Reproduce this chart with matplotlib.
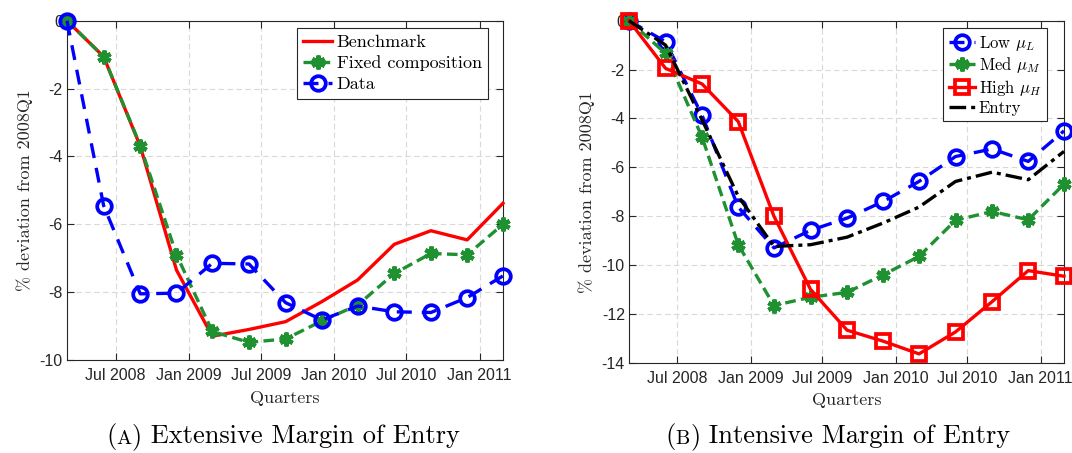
import matplotlib
matplotlib.use("Agg")
import matplotlib.pyplot as plt
import matplotlib.dates as mdates
import datetime as dt
from matplotlib.offsetbox import TextArea, HPacker, AnnotationBbox

# ---------------- data ----------------
quarters = ["2008-03-01", "2008-06-01", "2008-09-01", "2008-12-01",
            "2009-03-01", "2009-06-01", "2009-09-01", "2009-12-01",
            "2010-03-01", "2010-06-01", "2010-09-01", "2010-12-01",
            "2011-03-01"]

benchmark = [0.0, -1.06, -3.70, -7.35, -9.30, -9.10, -8.87, -8.28, -7.64, -6.59, -6.19, -6.46, -5.38]
fixed_comp = [0.0, -1.06, -3.68, -6.90, -9.16, -9.48, -9.38, -8.85, -8.38, -7.45, -6.86, -6.90, -6.00]
data_ext = [0.0, -5.45, -8.05, -8.03, -7.15, -7.17, -8.31, -8.82, -8.41, -8.58, -8.60, -8.16, -7.52]

low_mu = [0.0, -0.86, -3.88, -7.63, -9.30, -8.58, -8.08, -7.40, -6.58, -5.56, -5.25, -5.76, -4.51]
med_mu = [0.0, -1.34, -4.77, -9.17, -11.66, -11.32, -11.12, -10.40, -9.65, -8.17, -7.81, -8.15, -6.69]
high_mu = [0.0, -1.95, -2.59, -4.13, -8.01, -11.00, -12.67, -13.12, -13.64, -12.74, -11.50, -10.23, -10.46]
entry = [0.0, -1.00, -4.06, -7.19, -9.24, -9.17, -8.86, -8.28, -7.63, -6.58, -6.20, -6.51, -5.35]

tick_dates = ["2008-07-01", "2009-01-01", "2009-07-01", "2010-01-01", "2010-07-01", "2011-01-01"]

left_yticks = [-10, -8, -6, -4, -2, 0]
right_yticks = [-14, -12, -10, -8, -6, -4, -2, 0]

caption_a = ("A", "Extensive Margin of Entry")
caption_b = ("B", "Intensive Margin of Entry")

# ---------------- style ----------------
plt.rcParams["mathtext.fontset"] = "cm"
plt.rcParams["axes.unicode_minus"] = False

SERIF = "cmr10"
SANS = ["Liberation Sans", "DejaVu Sans"]
RED = "#ff0000"
GREEN = "#1f9130"
BLUE = "#0000ff"
BLACK = "#000000"
AXC = "#262626"

x = [dt.datetime.strptime(d, "%Y-%m-%d") for d in quarters]
xt = [dt.datetime.strptime(d, "%Y-%m-%d") for d in tick_dates]

fig = plt.figure(figsize=(10.72, 4.53), dpi=100)
axL = fig.add_axes([67 / 1072, 1 - 360 / 453, 436 / 1072, 339.3 / 453])
axR = fig.add_axes([629 / 1072, 1 - 362.7 / 453, 435 / 1072, 342 / 453])

asterisk = (6, 2, 0)


def style_axes(ax, yticks):
    ax.set_xlim(x[0], x[-1])
    ax.set_ylim(yticks[0], yticks[-1])
    ax.set_xticks(xt)
    ax.xaxis.set_major_formatter(mdates.DateFormatter("%b %Y"))
    ax.set_yticks(yticks)
    ax.set_yticklabels([str(v) for v in yticks])
    ax.grid(True, color="#d9d9d9", linestyle=(0, (5, 3)), linewidth=0.8)
    ax.set_axisbelow(True)
    ax.tick_params(direction="in", top=True, right=True, length=5, width=0.8,
                   colors=AXC, labelsize=11.5)
    ax.tick_params(axis="x", pad=6)
    ax.tick_params(axis="y", pad=3)
    for lab in ax.get_xticklabels() + ax.get_yticklabels():
        lab.set_family(SANS)
    for s in ax.spines.values():
        s.set_color(AXC)
        s.set_linewidth(0.8)
    ax.set_xlabel("Quarters", family=SERIF, fontsize=13, color=AXC, labelpad=5)
    ax.set_ylabel("% deviation from 2008Q1", family=SERIF, fontsize=13, color=AXC, labelpad=5)


line_kw = dict(lw=2.4, clip_on=False)

# ---------------- left panel ----------------
axL.plot(x, benchmark, color=RED, ls="-", label="Benchmark", zorder=3, **line_kw)
axL.plot(x, fixed_comp, color=GREEN, ls=(0, (3.2, 1.6)), marker=asterisk,
         ms=10, mew=3.0, mec=GREEN, mfc=GREEN, label="Fixed composition", zorder=4, **line_kw)
axL.plot(x, data_ext, color=BLUE, ls=(0, (4.5, 3.0)), marker="o",
         ms=10.5, mew=2.7, mec=BLUE, mfc="none", label="Data", zorder=5, **line_kw)
style_axes(axL, left_yticks)
legL = axL.legend(loc="upper right", bbox_to_anchor=(0.966, 0.978),
                  prop={"family": SERIF, "size": 13}, frameon=True, fancybox=False,
                  edgecolor=AXC, framealpha=1, borderpad=0.35, handlelength=1.6,
                  handletextpad=0.25, labelspacing=0.3, borderaxespad=0)
legL.get_frame().set_linewidth(0.8)

# ---------------- right panel ----------------
axR.plot(x, low_mu, color=BLUE, ls=(0, (4.5, 3.0)), marker="o",
         ms=10.5, mew=2.7, mec=BLUE, mfc="none", label=r"Low $\mu_L$", zorder=3, **line_kw)
axR.plot(x, med_mu, color=GREEN, ls=(0, (3.2, 1.6)), marker=asterisk,
         ms=10, mew=3.0, mec=GREEN, mfc=GREEN, label=r"Med $\mu_M$", zorder=4, **line_kw)
axR.plot(x, high_mu, color=RED, ls="-", marker="s",
         ms=9.5, mew=2.7, mec=RED, mfc="none", label=r"High $\mu_H$", zorder=5, **line_kw)
axR.plot(x, entry, color=BLACK, ls=(0, (5, 1.5, 1.2, 1.5)), label="Entry", zorder=6, **line_kw)
style_axes(axR, right_yticks)
legR = axR.legend(loc="upper right", bbox_to_anchor=(0.961, 0.979),
                  prop={"family": SERIF, "size": 12}, frameon=True, fancybox=False,
                  edgecolor=AXC, framealpha=1, borderpad=0.35, handlelength=1.6,
                  handletextpad=0.2, labelspacing=0.15, borderaxespad=0)
legR.get_frame().set_linewidth(0.8)


# ---------------- captions ----------------
def caption_text(xc, yc, letter, rest):
    big = dict(family=SERIF, fontsize=19, color="black")
    small = dict(family=SERIF, fontsize=14.5, color="black")
    parts = [TextArea("(", textprops=big), TextArea(letter, textprops=small),
             TextArea(")", textprops=big), TextArea(" " + rest, textprops=big)]
    box = HPacker(children=parts, align="baseline", pad=0, sep=0)
    ab = AnnotationBbox(box, (xc, yc), xycoords="figure fraction", frameon=False,
                        box_alignment=(0.5, 0.5), pad=0)
    fig.add_artist(ab)


caption_text(283 / 1072, 1 - 437 / 453, caption_a[0], caption_a[1])
caption_text(838 / 1072, 1 - 437 / 453, caption_b[0], caption_b[1])

fig.savefig("out.png", dpi=100)
